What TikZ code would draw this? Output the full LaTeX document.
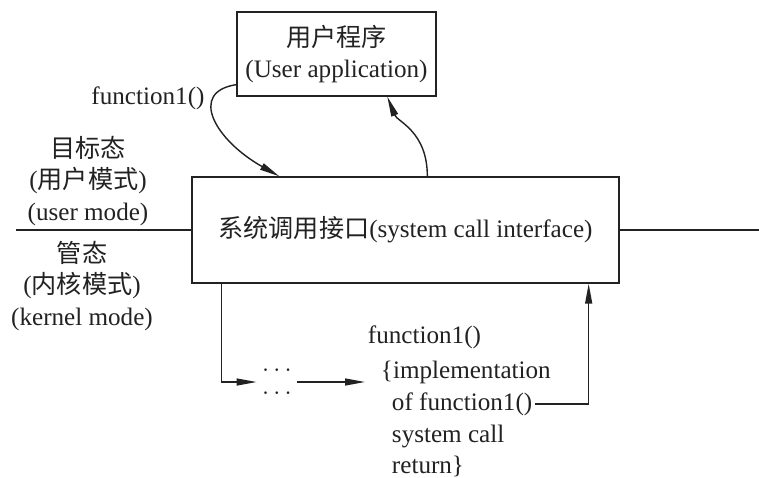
\documentclass[tikz,border=0pt]{standalone}
\usepackage{fontspec}
\setmainfont{Liberation Serif}
\newfontfamily\cjk{Noto Sans CJK SC}
\usetikzlibrary{arrows.meta,calc}
\definecolor{ink}{HTML}{222222}
\tikzset{
  lbl/.style={text=ink,font=\fontsize{14.3}{18.1}\selectfont,inner sep=1.5pt},
  box/.style={draw=ink,line width=0.8pt},
  wire/.style={draw=ink,line width=0.8pt},
  arr/.style={draw=ink,line width=0.8pt,-{Triangle[length=4mm,width=1.4mm]}}
}

\begin{document}
\begin{tikzpicture}[x=0.02cm,y=-0.02cm]
  \useasboundingbox (0,0) rectangle (759,477);
  \fill[white] (0,0) rectangle (759,477);
  % the two boxes
  \node[lbl,box,align=center,minimum width=3.98cm,minimum height=1.68cm] (app) at (336.5,54)
    {{\cjk 用户程序}\\(User application)};
  \node[lbl,box,minimum width=8.54cm,minimum height=2.12cm] (sys) at (405.5,230)
    {{\cjk 系统调用接口}(system call interface)};
  % mode labels and the boundary
  \node[lbl,align=center] (user) at (88,181) {{\cjk 目标态}\\({\cjk 用户模式})\\(user mode)};
  \node[lbl,align=center] (kern) at (82,286) {{\cjk 管态}\\({\cjk 内核模式})\\(kernel mode)};
  \coordinate (lend) at (16,230);
  \coordinate (rend) at (759,230);
  \draw[wire] (lend) -- (sys.west);
  \draw[wire] (sys.east) -- (rend);
  % call from the application
  \node[lbl] (call) at (148,98) {function1()};
  \draw[arr] (app.197) .. controls (188,92) and (215,140) .. ($(sys.north west)+(88,0)$);
  \draw[arr] ($(sys.north west)+(236,0)$) .. controls +(0,-45) and +(10,25) .. ($(app.south west)+(151,0)$);
  % kernel side
  \node[lbl,align=center,inner sep=3pt,font=\fontsize{14.3}{13}\selectfont] (dots) at (277,382) {$\cdots$\\$\cdots$};
  \node[lbl,anchor=west] (f1)   at (365,337) {function1()};
  \node[lbl,anchor=west] (impl) at (378,372) {\{implementation};
  \node[lbl,anchor=west] (of)   at (389,404) {of function1()};
  \node[lbl,anchor=west] (sc)   at (389,436) {system call};
  \node[lbl,anchor=west] (ret)  at (389,466) {return\}};
  \draw[arr] ($(sys.south west)+(30,0)$) |- (dots.west);
  \draw[arr] (dots.east) -- (f1.west |- dots.east);
  \draw[arr] (of.east) -| ($(sys.south east)+(-31,0)$);
\end{tikzpicture}
\end{document}
